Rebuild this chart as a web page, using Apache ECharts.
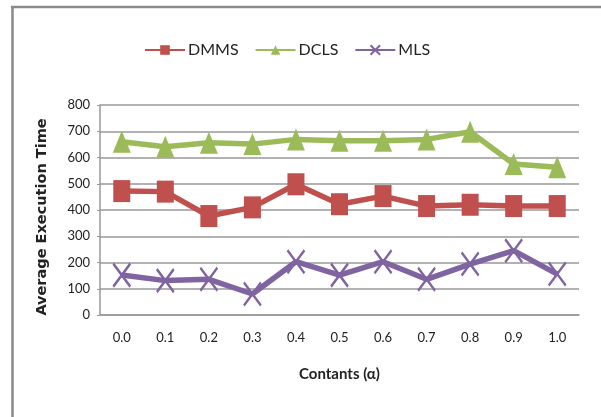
<!DOCTYPE html>
<html><head><meta charset="utf-8">
<script src="https://cdn.jsdelivr.net/npm/echarts@6/dist/echarts.min.js"></script>
<style>html,body{margin:0;padding:0;background:#fff}#c{width:601px;height:417px}</style>
</head><body><div id="c"></div>
<script>
const categories = ['0.0','0.1','0.2','0.3','0.4','0.5','0.6','0.7','0.8','0.9','1.0'];
const dmms = [472, 470, 377, 410, 498, 422, 453, 415, 420, 415, 415];
const dcls = [660, 641, 656, 651, 669, 664, 664, 669, 698, 575, 563];
const mls  = [152, 131, 136, 80, 203, 152, 203, 136, 194, 245, 156];
const yTicks = [0, 100, 200, 300, 400, 500, 600, 700, 800];

const font = "Lato,'Open Sans',sans-serif";
const cross = 'path://M0,0L10,10M10,0L0,10';
const chart = echarts.init(document.getElementById('c'), null, {renderer:'canvas'});
chart.setOption({
  animation:false,
  backgroundColor:'#fff',
  graphic:[
    {type:'line', shape:{x1:11,y1:7,x2:601,y2:7}, style:{stroke:'#8a8a8a', lineWidth:2.5}},
    {type:'line', shape:{x1:12.5,y1:6,x2:12.5,y2:417}, style:{stroke:'#8a8a8a', lineWidth:2.5}}
  ],
  legend:{
    top:37, left:139, itemWidth:40, itemHeight:12, itemGap:16,
    textStyle:{fontFamily:font, fontSize:16, color:'#222', padding:[0,0,0,-2]},
    data:['DMMS','DCLS','MLS']
  },
  grid:{left:100, right:22, top:105, bottom:102, containLabel:false},
  xAxis:{
    type:'category', data:categories, boundaryGap:true,
    name:'Contants (α)', nameLocation:'middle', nameGap:52,
    nameTextStyle:{fontFamily:font, fontSize:15, color:'#222', fontWeight:'bold'},
    axisLine:{lineStyle:{color:'#999', width:1.5}},
    axisTick:{show:false},
    axisLabel:{fontFamily:font, fontSize:13, color:'#222', margin:16}
  },
  yAxis:{
    type:'value', min:0, max:800, interval:100,
    name:'Average Execution Time', nameLocation:'middle', nameGap:50, nameRotate:90,
    nameTextStyle:{fontFamily:"'DejaVu Sans',sans-serif", fontSize:14.5, fontWeight:'bold', color:'#222', padding:[0,14,0,0]},
    axisLine:{show:true, lineStyle:{color:'#999', width:1.5}},
    axisTick:{show:true, length:3, lineStyle:{color:'#999'}},
    axisLabel:{fontFamily:font, fontSize:13, color:'#222', margin:10,
      formatter:v=> yTicks.includes(v) ? String(v) : ''},
    splitLine:{lineStyle:{color:'#999', width:1.5}}
  },
  series:[
    {name:'DMMS', type:'line', data:dmms, symbol:'rect', symbolSize:[17,22],
     lineStyle:{color:'#C0504D', width:5.5}, itemStyle:{color:'#C0504D'}},
    {name:'DCLS', type:'line', data:dcls, symbol:'triangle', symbolSize:[18,22],
     lineStyle:{color:'#9BBB59', width:5.5}, itemStyle:{color:'#9BBB59'}},
    {name:'MLS', type:'line', data:mls, symbol:cross, symbolSize:[17,23],
     lineStyle:{color:'#8064A2', width:5.5},
     itemStyle:{color:'#8064A2', borderColor:'#8064A2', borderWidth:2.5}}
  ]
});
</script></body></html>
